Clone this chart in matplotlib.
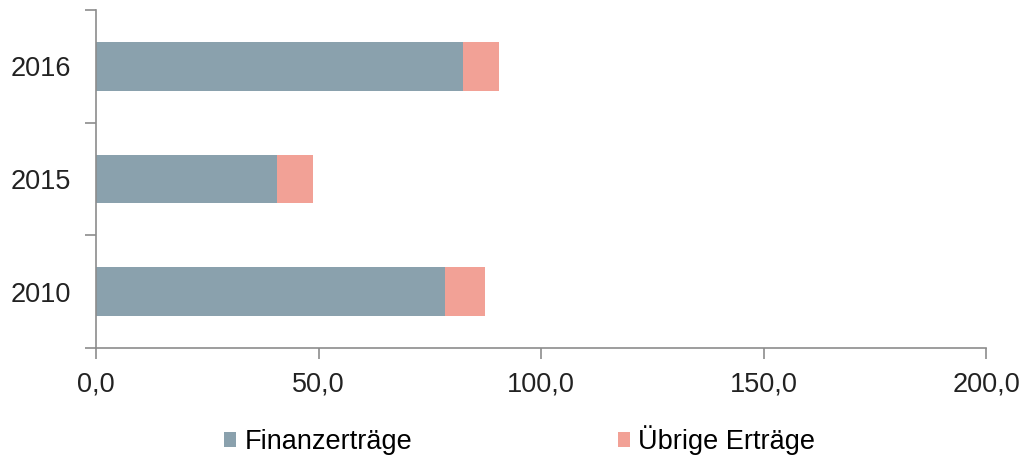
import matplotlib
matplotlib.use("Agg")
import matplotlib.pyplot as plt
from matplotlib.ticker import FuncFormatter, FixedLocator

years = ["2010", "2015", "2016"]
finanz = [78.4, 40.7, 82.5]
uebrige = [9.0, 8.1, 8.1]
series_names = ["Finanzerträge", "Übrige Erträge"]
colors = ["#8aa1ad", "#f2a196"]

plt.rcParams["font.family"] = ["Liberation Sans", "DejaVu Sans"]

fig = plt.figure(figsize=(10.23, 4.62), dpi=100)
ax = fig.add_axes([96 / 1023, 1 - 348 / 462, 890 / 1023, 338 / 462])

y = range(len(years))
h = 0.43
b1 = ax.barh(y, finanz, height=h, color=colors[0], label=series_names[0])
b2 = ax.barh(y, uebrige, left=finanz, height=h, color=colors[1], label=series_names[1])

ax.set_xlim(0, 200)
ax.set_ylim(-0.5, 2.5)
ax.set_xticks([0, 50, 100, 150, 200])
ax.xaxis.set_major_formatter(FuncFormatter(lambda v, p: f"{v:.1f}".replace(".", ",")))
ax.set_yticks(list(y))
ax.set_yticklabels(years)
ax.yaxis.set_minor_locator(FixedLocator([-0.5, 0.5, 1.5, 2.5]))

gray = "#8c8c8c"
for s in ["top", "right"]:
    ax.spines[s].set_visible(False)
for s in ["left", "bottom"]:
    ax.spines[s].set_color(gray)
    ax.spines[s].set_linewidth(1.2)

ax.tick_params(axis="y", which="major", length=0, pad=18, labelsize=19.5, labelcolor="#222222")
ax.tick_params(axis="y", which="minor", length=8, width=1.2, color=gray, direction="out")
ax.tick_params(axis="x", which="major", length=8, width=1.2, color=gray, direction="out",
               labelsize=19.5, labelcolor="#222222", pad=9)

fig.legend(handles=[b1, b2], labels=series_names, loc="center", bbox_to_anchor=(0.508, 1 - 440 / 462),
           ncol=2, frameon=False, fontsize=19.5, handlelength=0.45, handleheight=0.45,
           handletextpad=0.3, columnspacing=7.6)

fig.savefig("out.png", dpi=100)
